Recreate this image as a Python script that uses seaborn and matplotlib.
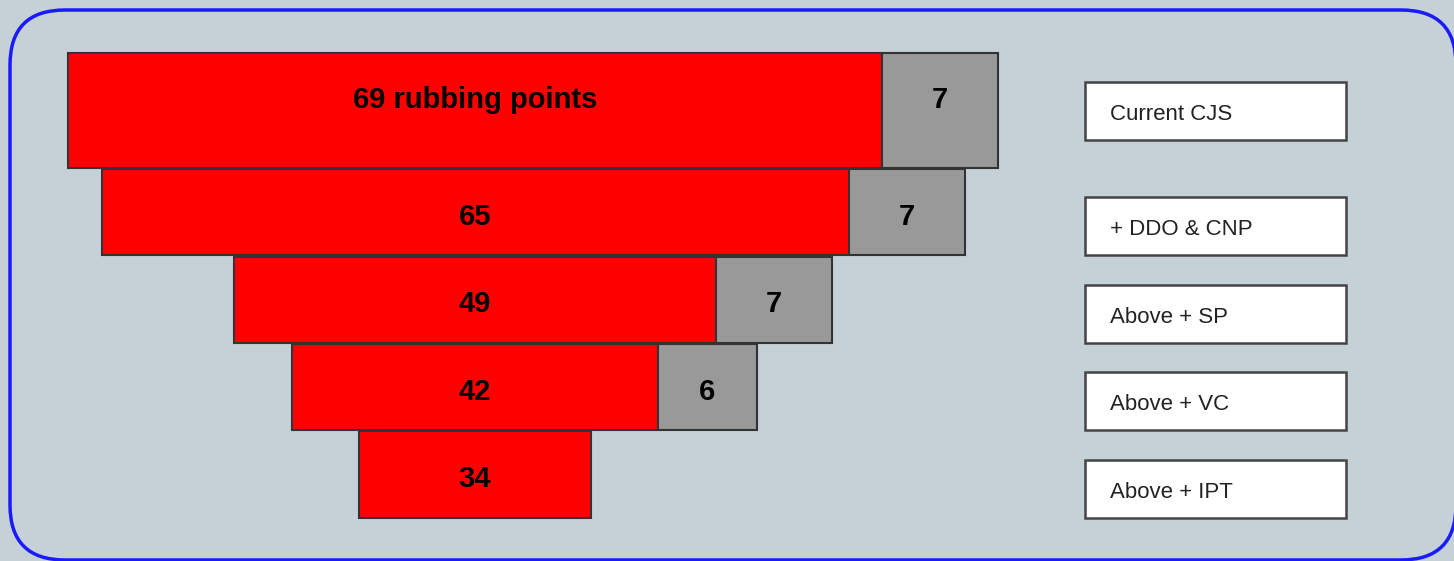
import numpy as np
import matplotlib
matplotlib.use('Agg')
import matplotlib.pyplot as plt
import seaborn as sns
from matplotlib.patches import FancyBboxPatch, Rectangle
from matplotlib.transforms import IdentityTransform

# Data
stages = ['Current CJS', '+ DDO & CNP', 'Above + SP', 'Above + VC', 'Above + IPT']
rubbing = [69, 65, 49, 42, 34]
extra = [7, 7, 7, 6, 0]
red_labels = ['69 rubbing points', '65', '49', '42', '34']

# Style
sns.set_theme(style='white')
plt.rcParams['font.family'] = ['Liberation Sans', 'DejaVu Sans']
bg = '#c5d0d7'

fig = plt.figure(figsize=(14.54, 5.61), dpi=100, facecolor=bg)
ax = fig.add_axes([0, 0, 1, 1])
ax.set_facecolor('none')
ax.axis('off')

# funnel widths drawn as value above a hidden baseline
base = 20
row_h = np.array([1.314, 0.985, 0.985, 0.985, 0.985])
gap = 0.014
top = 0.606
row_top = top + np.concatenate([[0], np.cumsum(row_h + gap)[:-1]])
row_mid = row_top + row_h / 2

half = (np.array(rubbing) - base) / 2
ax.barh(row_mid, 2 * half, left=-half, height=row_h,
        color='#ff0000', edgecolor='#333333', linewidth=1.5, zorder=2)
has_extra = np.array(extra) > 0
ax.barh(row_mid[has_extra], np.array(extra)[has_extra], left=half[has_extra],
        height=row_h[has_extra], color='#999999', edgecolor='#333333',
        linewidth=1.5, zorder=2)

for i, (lab, g) in enumerate(zip(red_labels, extra)):
    dy = -0.12 if i == 0 else 0.05
    ax.text(0, row_mid[i] + dy, lab, ha='center', va='center',
            fontsize=21, fontweight='bold', color='black', zorder=3)
    if g:
        ax.text(half[i] + g / 2, row_mid[i] + dy, str(g), ha='center', va='center',
                fontsize=21, fontweight='bold', color='black', zorder=3)

ax.set_xlim(-475 / 16.6, 979 / 16.6)
ax.set_ylim(561 / 87.5, 0)

# stage boxes on the right
box_h = 0.663
bx = 1085 / 1454
bw = 261 / 1454
trans = ax.get_yaxis_transform()
for i, s in enumerate(stages):
    if i == 0:
        cy = row_mid[i]
    else:
        cy = row_top[i] + row_h[i] - box_h / 2
    ax.add_patch(Rectangle((bx, cy - box_h / 2), bw, box_h, transform=trans,
                           facecolor='white', edgecolor='#444444', linewidth=1.8, zorder=2))
    ax.text(bx + 25 / 1454, cy + 0.04, s, transform=trans, ha='left', va='center',
            fontsize=16, color='#222222', zorder=3)

# rounded blue frame (filled so the renderer does not clip the off-canvas edge)
frame = FancyBboxPatch((10, 1), 1446, 550, boxstyle='round,pad=0,rounding_size=55',
                       transform=IdentityTransform(), facecolor=bg,
                       edgecolor='#1a1aff', linewidth=2.5, zorder=-1)
fig.patches.append(frame)

fig.savefig('out.png', dpi=100, facecolor=bg)
